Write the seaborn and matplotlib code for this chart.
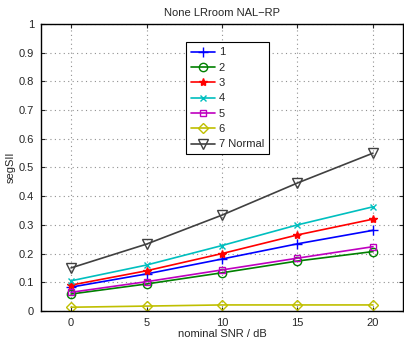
import pandas as pd
import numpy as np
import seaborn as sns
from matplotlib import pyplot as plt

snr = [0, 5, 10, 15, 20]
labels = ["1", "2", "3", "4", "5", "6", "7 Normal"]
s1 = [0.083, 0.129, 0.181, 0.234, 0.281]
s2 = [0.059, 0.094, 0.133, 0.174, 0.207]
s3 = [0.090, 0.140, 0.200, 0.265, 0.320]
s4 = [0.105, 0.160, 0.228, 0.300, 0.363]
s5 = [0.065, 0.102, 0.143, 0.184, 0.224]
s6 = [0.013, 0.017, 0.021, 0.021, 0.021]
s7 = [0.150, 0.233, 0.334, 0.446, 0.550]

series = [s1, s2, s3, s4, s5, s6, s7]
colors = ["#0000ff", "#008000", "#ff0000", "#00bfbf", "#bf00bf", "#bfbf00", "#404040"]
markers = ["+", "o", "*", "x", "s", "D", "v"]
msizes = [7, 6, 6, 5, 5, 5, 7]
faces = ["none", "none", "#ff0000", "none", "none", "none", "none"]

sns.set_style("ticks")
plt.rcParams['font.family'] = ['Liberation Sans', 'DejaVu Sans']
plt.rcParams['font.size'] = 8

fig = plt.figure(figsize=(4.04, 3.38), dpi=100)
ax = fig.add_axes([0.101, 0.080, 0.897, 0.849])

for lab, vals, c, m, ms, fc in zip(labels, series, colors, markers, msizes, faces):
    df = pd.DataFrame({"snr": snr, "segSII": vals})
    sns.lineplot(data=df, x="snr", y="segSII", ax=ax, color=c, marker=m,
                 markersize=ms, markerfacecolor=fc, markeredgecolor=c,
                 markeredgewidth=1.0, linewidth=1.2, label=lab)

ax.set_xlim(-2, 22)
ax.set_ylim(0, 1)
ax.set_xticks([0, 5, 10, 15, 20])
ax.set_yticks(np.arange(0, 1.01, 0.1))
ax.set_yticklabels(["0", "0.1", "0.2", "0.3", "0.4", "0.5", "0.6", "0.7", "0.8", "0.9", "1"])
ax.grid(True, linestyle=(0, (1, 3)), color="#909090", linewidth=0.8)
ax.tick_params(direction="in", length=3, labelsize=8, top=True, right=True, pad=5)
for sp in ax.spines.values():
    sp.set_linewidth(1.0)
    sp.set_color("black")
ax.set_xlabel("nominal SNR / dB", fontsize=8, labelpad=1)
ax.set_ylabel("segSII", fontsize=8, labelpad=2)
ax.set_title("None LRroom NAL\u2212RP", fontsize=8, pad=6)

leg = ax.legend(loc="upper left", bbox_to_anchor=(0.385, 0.955), frameon=True,
                fancybox=False, edgecolor="black", framealpha=1, fontsize=8,
                handlelength=2.2, handletextpad=0.3, labelspacing=0.48,
                borderpad=0.45)
leg.get_frame().set_linewidth(0.8)

fig.savefig("out.png", dpi=100)
